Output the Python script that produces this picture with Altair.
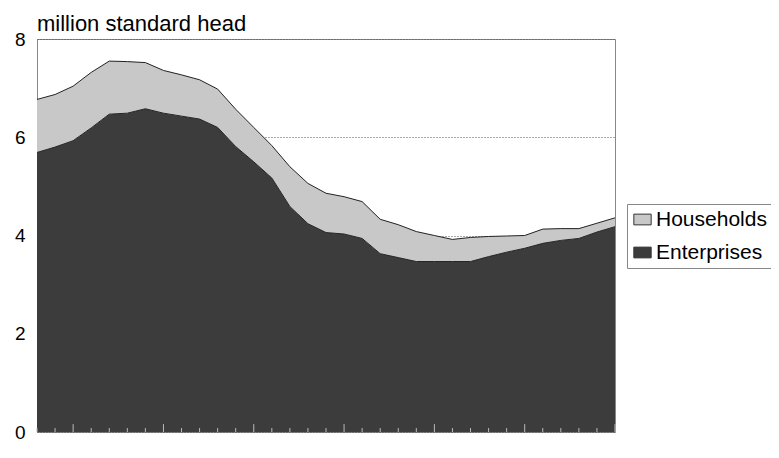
import altair as alt
import pandas as pd

# 33 periods (x-axis labels are illegible in the reference)
periods = list(range(33))
total = [6.77, 6.87, 7.04, 7.32, 7.55, 7.54, 7.52, 7.36, 7.27, 7.17, 6.98, 6.57,
         6.20, 5.83, 5.40, 5.06, 4.86, 4.79, 4.69, 4.33, 4.22, 4.08, 4.00, 3.92,
         3.96, 3.98, 3.99, 4.00, 4.13, 4.14, 4.14, 4.25, 4.36]
enterprises = [5.69, 5.80, 5.93, 6.19, 6.47, 6.49, 6.58, 6.49, 6.43, 6.37, 6.20, 5.81,
               5.50, 5.17, 4.59, 4.24, 4.06, 4.03, 3.94, 3.63, 3.55, 3.47, 3.47, 3.47,
               3.47, 3.57, 3.66, 3.74, 3.84, 3.90, 3.94, 4.07, 4.18]
households = [round(t - e, 2) for t, e in zip(total, enterprises)]
series_names = ["Households", "Enterprises"]
series_colors = ["#c8c8c8", "#3c3c3c"]
y_ticks = [0, 2, 4, 6, 8]

rows = []
for i, p in enumerate(periods):
    rows.append({"p": p, "series": "Enterprises", "value": enterprises[i], "ord": 0})
    rows.append({"p": p, "series": "Households", "value": households[i], "ord": 1})
df = pd.DataFrame(rows)

edge_rows = []
for i, p in enumerate(periods):
    edge_rows.append({"p": p, "edge": "ent", "top": enterprises[i]})
    edge_rows.append({"p": p, "edge": "tot", "top": total[i]})
edge_df = pd.DataFrame(edge_rows)

tick_df = pd.DataFrame({"p": periods,
                        "len": [0.16 if (p - 2) % 5 == 0 else 0.08 for p in periods]})
tick_df["zero"] = 0.0

xscale = alt.Scale(domain=[0, 32], nice=False, zero=False)
yscale = alt.Scale(domain=[0, 8], nice=False)

area = alt.Chart(df).mark_area(opacity=1).encode(
    x=alt.X("p:Q", scale=xscale, axis=None),
    y=alt.Y("value:Q", stack="zero", scale=yscale,
            axis=alt.Axis(values=y_ticks, title=None, ticks=False, domain=False,
                          grid=True, gridDash=[1, 2], gridColor="#555555",
                          labelFontSize=19, labelPadding=12, labelColor="#000000",
                          labelFont="Liberation Sans")),
    color=alt.Color("series:N", scale=alt.Scale(domain=series_names, range=series_colors),
                    legend=alt.Legend(title=None, orient="none", legendX=590, legendY=165,
                                      symbolType="M-1,-0.62H1V0.62H-1Z", symbolSize=300,
                                      symbolStrokeColor="#333333", symbolStrokeWidth=1,
                                      labelFontSize=21, labelFont="Liberation Sans",
                                      labelColor="#000000", labelOffset=3,
                                      strokeColor="#888888", fillColor="#ffffff",
                                      padding=5, rowPadding=11, labelLimit=200)),
    order=alt.Order("ord:Q"),
)

edges = alt.Chart(edge_df).mark_line(color="#222222", strokeWidth=1).encode(
    x=alt.X("p:Q", scale=xscale),
    y=alt.Y("top:Q", scale=yscale),
    detail="edge:N",
)

ticks = alt.Chart(tick_df).mark_rule(color="#bbbbbb", strokeWidth=1).encode(
    x=alt.X("p:Q", scale=xscale),
    y=alt.Y("zero:Q", scale=yscale),
    y2="len:Q",
)

chart = alt.layer(area, edges, ticks).properties(
    width=578, height=393,
    autosize=alt.AutoSizeParams(type="none"),
    padding={"left": 29, "top": 31, "right": 156, "bottom": 18},
    title=alt.TitleParams("million standard head", anchor="start", fontSize=22,
                          font="Liberation Sans", fontWeight="normal", color="#000000",
                          frame="group", offset=0, dy=6),
).configure_view(stroke="#888888", strokeWidth=1)

chart.save("out.html", embed_options={"renderer": "svg", "actions": False})
